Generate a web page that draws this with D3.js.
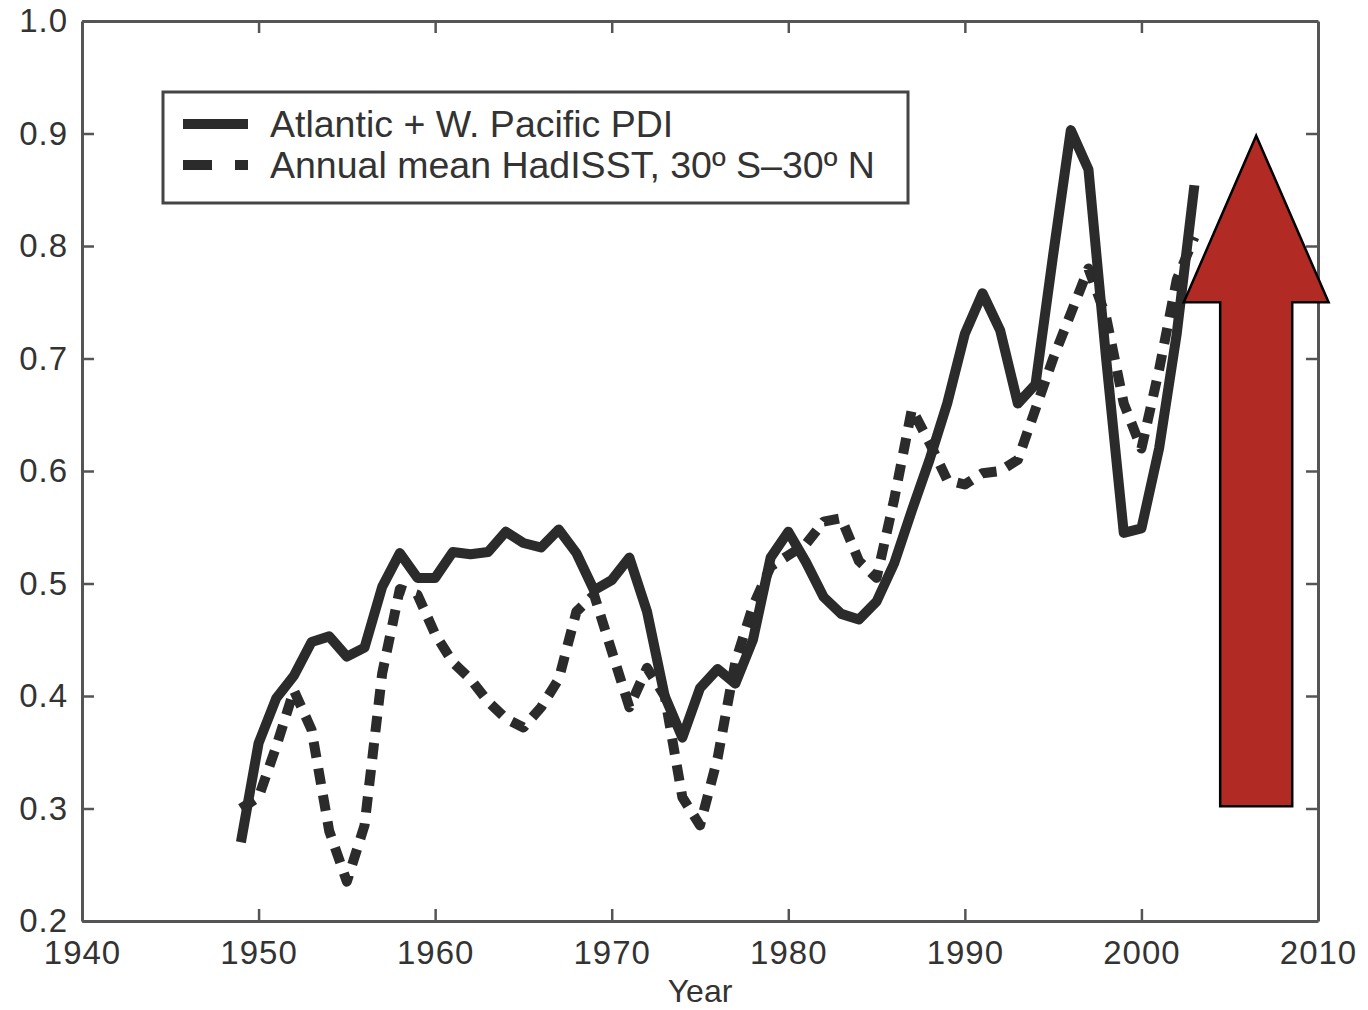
<!DOCTYPE html>
<html>
<head>
<meta charset="utf-8">
<script src="https://cdn.jsdelivr.net/npm/d3@7"></script>
<style>
  body { margin: 0; background: #fff; }
  svg text { font-family: "Liberation Sans", Arial, Helvetica, sans-serif; fill: #333; }
</style>
</head>
<body>
<div id="chart"></div>
<script>
const width = 1368
const height = 1010

// data
const years = d3.range(1949, 2004)
const pdi = [0.27, 0.358, 0.398, 0.418, 0.448, 0.453, 0.435, 0.443, 0.497, 0.527,
    0.505, 0.505, 0.528, 0.526, 0.528, 0.546, 0.536, 0.532, 0.548, 0.527,
    0.494, 0.503, 0.523, 0.475, 0.400, 0.363, 0.407, 0.424, 0.411, 0.450,
    0.523, 0.546, 0.519, 0.488, 0.473, 0.468, 0.484, 0.518, 0.565, 0.610,
    0.660, 0.722, 0.758, 0.725, 0.660, 0.677, 0.792, 0.903, 0.868, 0.700,
    0.545, 0.549, 0.620, 0.722, 0.854]
const sst = [0.30, 0.31, 0.355, 0.405, 0.37, 0.28, 0.235, 0.285, 0.42, 0.495,
    0.49, 0.455, 0.43, 0.415, 0.395, 0.38, 0.372, 0.39, 0.415, 0.475,
    0.49, 0.44, 0.39, 0.425, 0.40, 0.31, 0.285, 0.345, 0.43, 0.48,
    0.515, 0.525, 0.535, 0.555, 0.558, 0.52, 0.505, 0.575, 0.655, 0.625,
    0.592, 0.588, 0.598, 0.600, 0.61, 0.655, 0.70, 0.74, 0.78, 0.737,
    0.66, 0.62, 0.69, 0.77, 0.808]
const seriesNames = ["Atlantic + W. Pacific PDI", "Annual mean HadISST, 30\u00ba S\u201330\u00ba N"]
const xTicks = [1940, 1950, 1960, 1970, 1980, 1990, 2000, 2010]
const yTicks = [0.2, 0.3, 0.4, 0.5, 0.6, 0.7, 0.8, 0.9, 1.0]

// red arrow annotation, in data units
const arrowX = 2006.5
const arrowTip = 0.898
const arrowHeadBase = 0.75
const arrowBottom = 0.302
const arrowHeadHalf = 4.1
const arrowShaftHalf = 2.04

const x = d3.scaleLinear().domain([1940, 2010]).range([82, 1318])
const y = d3.scaleLinear().domain([0.2, 1.0]).range([921, 21])

const svg = d3.select("#chart").append("svg").attr("width", width).attr("height", height)

const axisColor = "#555"
const lineColor = "#2b2b2b"

function styleAxis(g) {
    g.select(".domain").attr("stroke", axisColor).attr("stroke-width", 3)
    g.selectAll(".tick line").attr("stroke", axisColor).attr("stroke-width", 2.5)
    g.selectAll(".tick text").attr("fill", "#333").style("font-size", "33px").style("letter-spacing", "1px")
}

// bottom
svg.append("g")
    .attr("transform", `translate(0,${y(0.2)})`)
    .call(d3.axisBottom(x).tickValues(xTicks).tickFormat(d3.format("d"))
        .tickSizeInner(-12).tickSizeOuter(0).tickPadding(20))
    .call(styleAxis)

// top
svg.append("g")
    .attr("transform", `translate(0,${y(1.0)})`)
    .call(d3.axisTop(x).tickValues(xTicks.slice(1, -1)).tickFormat("")
        .tickSizeInner(-12).tickSizeOuter(0))
    .call(styleAxis)

// left
svg.append("g")
    .attr("transform", `translate(${x(1940)},0)`)
    .call(d3.axisLeft(y).tickValues(yTicks).tickFormat(d3.format(".1f"))
        .tickSizeInner(-12).tickSizeOuter(0).tickPadding(14))
    .call(styleAxis)

// right
svg.append("g")
    .attr("transform", `translate(${x(2010)},0)`)
    .call(d3.axisRight(y).tickValues(yTicks.slice(1, -1)).tickFormat("")
        .tickSizeInner(-12).tickSizeOuter(0))
    .call(styleAxis)

svg.append("text")
    .attr("x", (x(1940) + x(2010)) / 2)
    .attr("y", 1002)
    .attr("text-anchor", "middle")
    .style("font-size", "32px")
    .text("Year")

const line = d3.line().x((d, i) => x(years[i])).y(d => y(d))

svg.append("path")
    .datum(sst)
    .attr("d", line)
    .attr("fill", "none")
    .attr("stroke", lineColor)
    .attr("stroke-width", 10)
    .attr("stroke-dasharray", "16,11")
    .attr("stroke-linejoin", "round")

svg.append("path")
    .datum(pdi)
    .attr("d", line)
    .attr("fill", "none")
    .attr("stroke", lineColor)
    .attr("stroke-width", 10)
    .attr("stroke-linejoin", "round")

// legend
const legend = svg.append("g")
legend.append("rect")
    .attr("x", 163).attr("y", 92).attr("width", 745).attr("height", 111)
    .attr("fill", "#fff").attr("stroke", "#444").attr("stroke-width", 3)

const legendDash = [null, "29,23"]
seriesNames.forEach((name, i) => {
    const ly = 124 + i * 41
    legend.append("line")
        .attr("x1", 183).attr("x2", 248).attr("y1", ly).attr("y2", ly)
        .attr("stroke", lineColor).attr("stroke-width", 10)
        .attr("stroke-dasharray", legendDash[i])
    legend.append("text")
        .attr("x", 270).attr("y", ly + 13)
        .style("font-size", "37.5px")
        .text(name)
})

// arrow
const arrowPts = [
    [arrowX, arrowTip],
    [arrowX + arrowHeadHalf, arrowHeadBase],
    [arrowX + arrowShaftHalf, arrowHeadBase],
    [arrowX + arrowShaftHalf, arrowBottom],
    [arrowX - arrowShaftHalf, arrowBottom],
    [arrowX - arrowShaftHalf, arrowHeadBase],
    [arrowX - arrowHeadHalf, arrowHeadBase]
]
svg.append("polygon")
    .attr("points", arrowPts.map(p => [x(p[0]), y(p[1])].join(",")).join(" "))
    .attr("fill", "#b22a24")
    .attr("stroke", "#000")
    .attr("stroke-width", 2.5)
</script>
</body>
</html>
